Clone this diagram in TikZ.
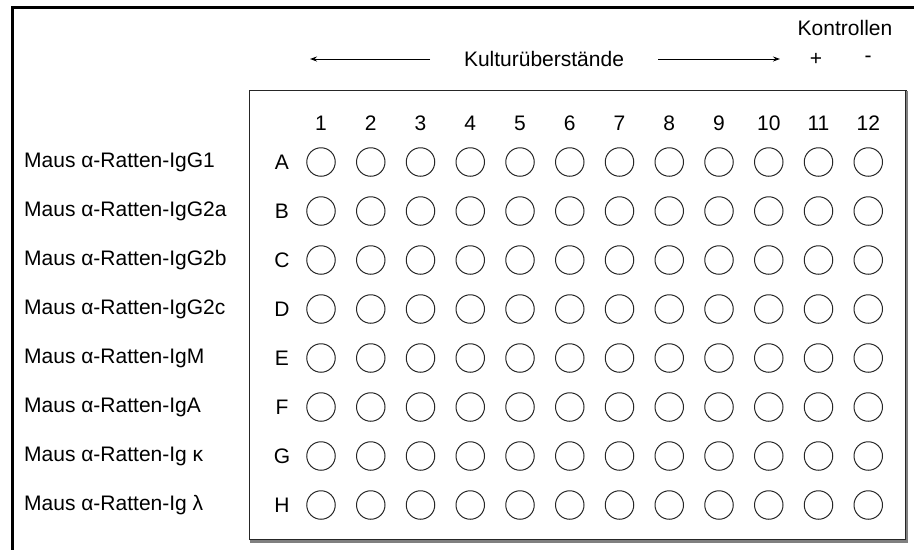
\documentclass[tikz,border=0pt]{standalone}
\usepackage{fontspec}
\setmainfont{Liberation Sans}
\usetikzlibrary{arrows.meta}
\begin{document}
\begin{tikzpicture}[x=1pt,y=-1pt,
  lbl/.style={inner sep=0pt,font=\fontsize{21}{25}\selectfont},
  well/.style={circle,draw=black!85,line width=1pt,minimum size=28.5pt,inner sep=0pt},
  frameline/.style={line width=2.2pt},
  plateline/.style={line width=1.4pt,draw=black!85},
  arr/.style={line width=1pt,-{Stealth[length=7pt,width=5pt]}}]
\useasboundingbox (0,0) rectangle (914,550);
% outer frame (top and left)
\draw[frameline] (914,7.5) -- (12.5,7.5) -- (12.5,550);
% plate outline with shaded lower and right edges
\draw[plateline] (249.5,90.5) rectangle (906,539.5);
\draw[line width=2.4pt,draw=black!50] (249.5,541.5) -- (907.2,541.5) -- (907.2,90.5);
% header texts
\node[lbl] (kontr) at (845,28) {Kontrollen};
\node[lbl] (plus) at (816,59) {+};
\node[lbl] (minus) at (868,59) {-};
\node[lbl] (kultur) at (544,59) {Kulturüberstände};
\coordinate (la) at (430,59);
\coordinate (lb) at (310,59);
\coordinate (ra) at (658,59);
\coordinate (rb) at (780,59);
\draw[arr] (la) -- (lb);
\draw[arr] (ra) -- (rb);
% column numbers
\foreach \c in {1,...,12}
  \node[lbl] (col\c) at ({321+(\c-1)*49.75},123) {\c};
% rows: antibody label, row letter and wells
\foreach \r/\name [count=\i from 0] in {A/IgG1,B/IgG2a,C/IgG2b,D/IgG2c,E/IgM,F/IgA,G/Ig κ,H/Ig λ}{
  \node[lbl,anchor=west] (ab\r) at (24,{162+\i*49}) {Maus α-Ratten-\name};
  \node[lbl] (row\r) at (282,{162+\i*49}) {\r};
  \foreach \c in {1,...,12}
    \node[well] (w\r\c) at ({321+(\c-1)*49.75},{162+\i*49}) {};
}
\end{tikzpicture}
\end{document}
